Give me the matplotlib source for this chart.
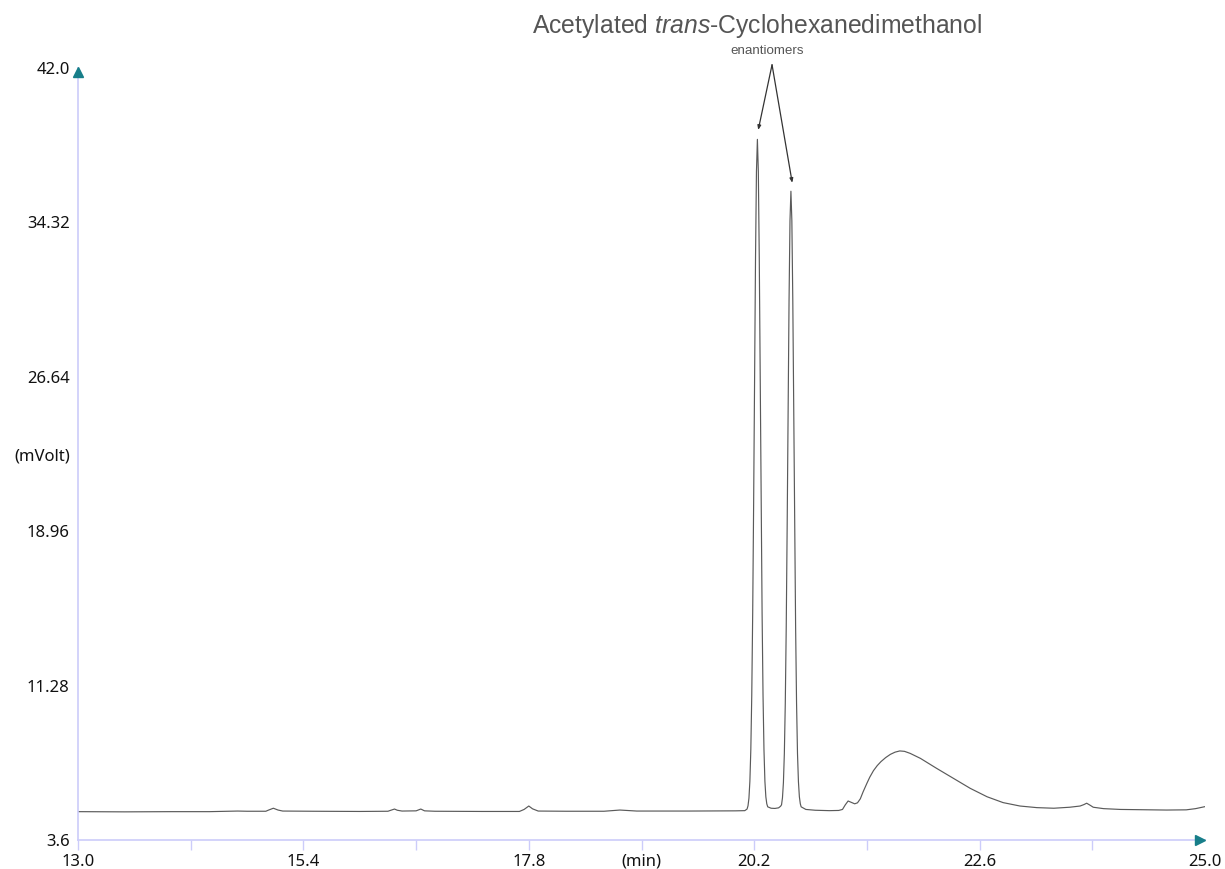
import matplotlib
matplotlib.use("Agg")
import matplotlib.pyplot as plt

# ---- data ----
time_min = [13.00, 13.50, 14.00, 14.40, 14.70, 14.80, 15.00, 15.03, 15.08, 15.13, 15.18,
            15.50, 16.00, 16.30, 16.34, 16.37, 16.40, 16.45, 16.60, 16.65, 16.69, 16.80,
            17.30, 17.70, 17.75, 17.80, 17.84, 17.90, 18.20, 18.60, 18.77, 18.95, 19.50,
            20.00, 20.10,
            20.124, 20.134, 20.144, 20.154, 20.164, 20.174, 20.184, 20.194, 20.204, 20.214,
            20.224, 20.234, 20.244, 20.254, 20.264, 20.274, 20.284, 20.294, 20.304, 20.314,
            20.324, 20.334, 20.344, 20.38, 20.42, 20.46, 20.481,
            20.491, 20.501, 20.511, 20.521, 20.531, 20.541, 20.551, 20.561, 20.571, 20.581,
            20.591, 20.601, 20.611, 20.621, 20.631, 20.641, 20.651, 20.661, 20.671, 20.681,
            20.691, 20.70, 20.75, 20.85, 21.00, 21.10, 21.14, 21.17, 21.20, 21.23, 21.27,
            21.30, 21.33, 21.36, 21.40, 21.43, 21.47, 21.51, 21.55, 21.60, 21.65, 21.70,
            21.75, 21.80, 21.86, 21.97, 22.14, 22.32, 22.50, 22.68, 22.85, 23.03, 23.21,
            23.39, 23.56, 23.67, 23.71, 23.74, 23.78, 23.81, 23.92, 24.10, 24.40, 24.59,
            24.80, 24.90, 25.00]
signal_mv = [5.01, 5.00, 5.01, 5.01, 5.04, 5.03, 5.03, 5.09, 5.18, 5.09, 5.04,
             5.03, 5.02, 5.03, 5.09, 5.14, 5.08, 5.04, 5.05, 5.14, 5.05, 5.03,
             5.02, 5.02, 5.12, 5.29, 5.15, 5.04, 5.03, 5.03, 5.09, 5.04, 5.04,
             5.05, 5.06,
             5.14, 5.30, 5.68, 6.52, 8.09, 10.79, 14.90, 20.35, 26.56, 32.54,
             36.85, 38.45, 36.85, 32.54, 26.56, 20.35, 14.90, 10.79, 8.09, 6.52,
             5.75, 5.40, 5.25, 5.18, 5.17, 5.20, 5.28,
             5.35, 5.70, 6.45, 7.90, 10.40, 14.18, 19.20, 24.92, 30.42, 34.40,
             35.87, 34.40, 30.42, 24.92, 19.20, 14.18, 10.40, 7.90, 6.50, 5.75,
             5.40, 5.25, 5.12, 5.08, 5.06, 5.07, 5.12, 5.35, 5.54, 5.48, 5.40,
             5.45, 5.65, 6.00, 6.42, 6.72, 7.05, 7.30, 7.50, 7.70, 7.86, 7.97,
             8.03, 8.01, 7.91, 7.66, 7.17, 6.67, 6.17, 5.75, 5.46, 5.29, 5.21,
             5.18, 5.23, 5.29, 5.36, 5.43, 5.32, 5.23, 5.16, 5.12, 5.10, 5.09,
             5.10, 5.16, 5.26]

x_ticks = [13.0, 14.2, 15.4, 16.6, 17.8, 19.0, 20.2, 21.4, 22.6, 23.8, 25.0]
x_tick_labels = ["13.0", "", "15.4", "", "17.8", "(min)", "20.2", "", "22.6", "", "25.0"]
y_ticks = [3.6, 11.28, 18.96, 22.8, 26.64, 34.32, 42.0]
y_tick_labels = ["3.6", "11.28", "18.96", "(mVolt)", "26.64", "34.32", "42.0"]

title_text = r"Acetylated $\it{trans}$-Cyclohexanedimethanol"
annot_text = "enantiomers"
peak_times = [20.243, 20.605]
peak_marks = [38.92, 36.29]
annot_apex = (20.39, 42.16)

# ---- styling ----
plt.rcParams["mathtext.fontset"] = "custom"
plt.rcParams["mathtext.rm"] = "Liberation Sans"
plt.rcParams["mathtext.it"] = "Liberation Sans:italic"

axis_col = "#ccccfa"
arrow_col = "#177e89"
trace_col = "#5a5a5a"
label_font = "Noto Sans"

W, H = 1225, 869
fig = plt.figure(figsize=(W / 100, H / 100), dpi=100)
ax = fig.add_axes([78 / W, 1 - 840 / H, (1205 - 78) / W, (840 - 68) / H])

ax.plot(time_min, signal_mv, color=trace_col, lw=0.85, solid_joinstyle="round")

ax.set_xlim(13.0, 25.0)
ax.set_ylim(3.6, 42.0)

for s in ["top", "right"]:
    ax.spines[s].set_visible(False)
for s in ["left", "bottom"]:
    ax.spines[s].set_color(axis_col)
    ax.spines[s].set_linewidth(1.2)

ax.set_xticks(x_ticks)
ax.set_xticklabels([])
ax.tick_params(axis="x", direction="out", length=7.5, width=1.0, color=axis_col)
ax.xaxis.get_major_ticks()[-1].tick1line.set_visible(False)
# x labels on a common baseline
for t, lab in zip(x_ticks, x_tick_labels):
    ax.text(t, -26 / 772, lab, transform=ax.get_xaxis_transform(), ha="center",
            va="baseline", fontfamily=label_font, fontsize=12, color="#111111")

ax.set_yticks(y_ticks)
ax.set_yticklabels(y_tick_labels, fontfamily=label_font, fontsize=12)
ax.tick_params(axis="y", length=0, pad=6, labelcolor="#111111")

# axis arrows
ax.plot([24.95], [3.6], marker=">", markersize=7.2, color=arrow_col, clip_on=False, zorder=5)
ax.plot([13.0], [41.78], marker="^", markersize=7.2, color=arrow_col, clip_on=False, zorder=5)

# annotation lines to enantiomer peaks
for px, py in zip(peak_times, peak_marks):
    ax.annotate("", xy=(px, py), xytext=annot_apex, annotation_clip=False,
                arrowprops=dict(arrowstyle="-|>,head_length=0.25,head_width=0.1",
                                color="#333333", lw=0.9, shrinkA=0, shrinkB=0))

fig.text(757 / W, 1 - 26 / H, title_text, ha="center", va="center",
         fontfamily="Liberation Sans", fontsize=17.8, color="#555555")
fig.text(767 / W, 1 - 51 / H, annot_text, ha="center", va="center",
         fontfamily="Liberation Sans", fontsize=9.6, color="#555555")

fig.savefig("out.png", dpi=100)
